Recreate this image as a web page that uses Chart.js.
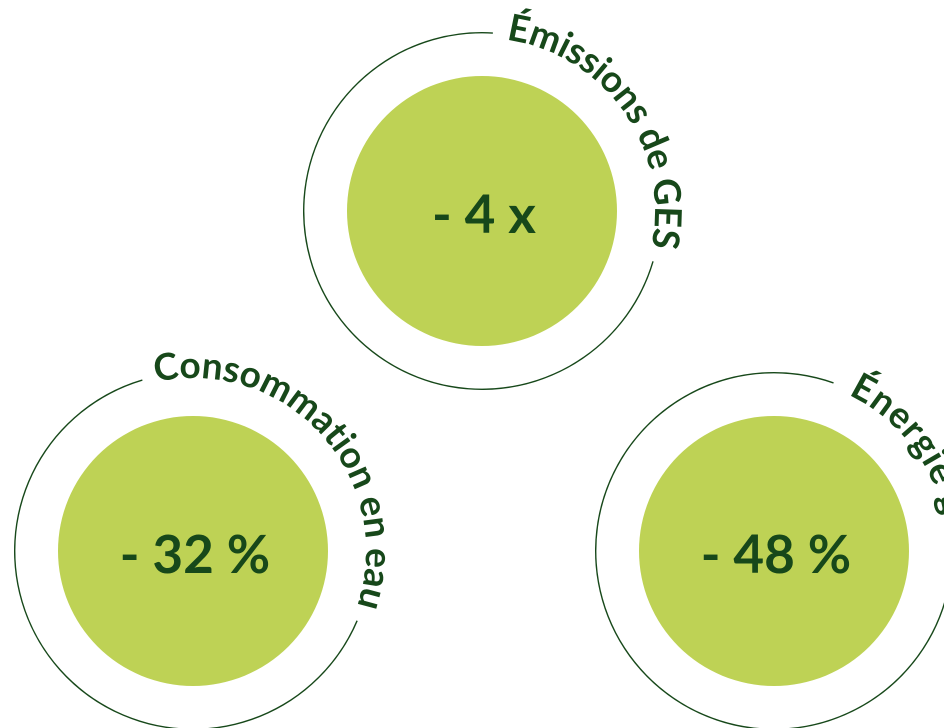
<!DOCTYPE html>
<html><head><meta charset="utf-8">
<script src="https://cdn.jsdelivr.net/npm/chart.js@4.4.1/dist/chart.umd.min.js"></script>
<style>
html,body{margin:0;padding:0;background:#ffffff;}
body{width:944px;height:728px;overflow:hidden;position:relative;}
canvas{position:absolute;}
</style></head><body>
<canvas id="c0" width="440" height="440" style="left:262px;top:-9px"></canvas>
<canvas id="c1" width="440" height="440" style="left:-27px;top:331px"></canvas>
<canvas id="c2" width="440" height="440" style="left:554px;top:331px"></canvas>
<script>
// ---- data ----
const categories = ["Émissions de GES", "Consommation en eau", "Énergie grise"];
const values = [-4, -32, -48];
const units = ["x", "%", "%"];

// ---- layout / style (not data) ----
const DARK = '#17481a';
const GREEN = '#bed255';
const layout = [
  {gapStart: -86.5, gapEnd: 16.4, textStart: -82, textEnd: 12, valueWeight: 700},
  {gapStart: -106.5, gapEnd: 23, textStart: -102.5, textEnd: 18.5, valueWeight: 700},
  {gapStart: -70.5, gapEnd: 16, textStart: -64.6, spacing: 0.8, valueWeight: 700}
];
const RING_W = 1.4, SPACER_W = 42.6, FILL_W = 135;
const TEXT_FONT = 'bold 37px Lato';
const TEXT_R_OFFSET = 6; // baseline inside the ring

function fmt(v, u) { return '- ' + Math.abs(v) + ' ' + u; }

const ringText = {
  id: 'ringText',
  afterDatasetsDraw(chart, args, opts) {
    const i = opts.idx;
    const L = layout[i];
    const ctx = chart.ctx;
    const ringArc = chart.getDatasetMeta(0).data[0];
    const fillArc = chart.getDatasetMeta(2).data[0];
    const cx = fillArc.x, cy = fillArc.y;
    const r = ringArc.outerRadius - TEXT_R_OFFSET;
    ctx.save();
    // center value
    ctx.fillStyle = DARK;
    ctx.font = L.valueWeight + ' 53px Lato';
    ctx.textAlign = 'center';
    ctx.textBaseline = 'alphabetic';
    ctx.fillText(fmt(values[i], units[i]), cx + 2, cy + 22);
    // curved label
    ctx.font = TEXT_FONT;
    const chars = Array.from(categories[i]);
    const widths = chars.map(c => ctx.measureText(c).width);
    const natural = widths.reduce((a, b) => a + b, 0);
    const a0 = L.textStart * Math.PI / 180;
    let sp;
    if (L.textEnd !== undefined) {
      const avail = (L.textEnd - L.textStart) * Math.PI / 180 * r;
      sp = (avail - natural) / (chars.length - 1);
    } else sp = L.spacing;
    let s = 0;
    ctx.textAlign = 'center';
    chars.forEach((c, k) => {
      const th = a0 + (s + widths[k] / 2) / r;
      ctx.save();
      ctx.translate(cx + r * Math.cos(th), cy + r * Math.sin(th));
      ctx.rotate(th + Math.PI / 2);
      ctx.fillText(c, 0, 0);
      ctx.restore();
      s += widths[k] + sp;
    });
    ctx.restore();
  }
};

categories.forEach((cat, i) => {
  const L = layout[i];
  const gap = L.gapEnd - L.gapStart;
  new Chart(document.getElementById('c' + i), {
    type: 'pie',
    data: {
      labels: [cat],
      datasets: [
        {data: [gap, 360 - gap], backgroundColor: ['rgba(0,0,0,0)', DARK], weight: RING_W, rotation: L.gapStart + 90, borderWidth: 0},
        {data: [1], backgroundColor: ['rgba(0,0,0,0)'], weight: SPACER_W, borderWidth: 0},
        {data: [Math.abs(values[i])], backgroundColor: [GREEN], weight: FILL_W, borderWidth: 0}
      ]
    },
    options: {
      responsive: false,
      animation: false,
      devicePixelRatio: 2,
      hoverOffset: 0,
      layout: {padding: 41},
      events: [],
      plugins: {legend: {display: false}, tooltip: {enabled: false}, ringText: {idx: i}}
    },
    plugins: [ringText]
  });
});
</script>
</body></html>
